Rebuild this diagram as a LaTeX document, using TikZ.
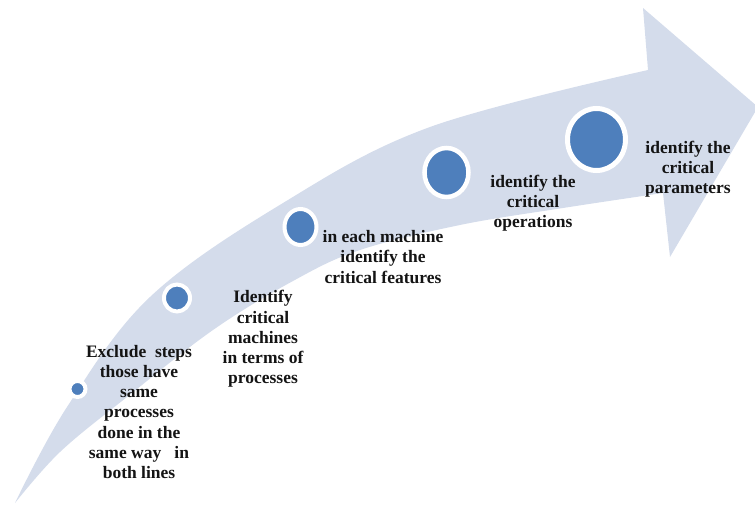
\documentclass[tikz,border=0pt]{standalone}
\usepackage{fontspec}
\setmainfont{Liberation Serif}
\usetikzlibrary{shapes.geometric}
\definecolor{bandblue}{RGB}{212,220,235}
\definecolor{dotblue}{RGB}{78,127,188}
\definecolor{inkblack}{RGB}{20,20,20}
\begin{document}
\begin{tikzpicture}[x=1pt,y=-1pt,
  band/.style={fill=bandblue,draw=none},
  dot/.style={ellipse,fill=dotblue,draw=white,line width=4pt,inner sep=0pt},
  steplabel/.style={align=center,inner sep=0pt,text=inkblack,
    font=\bfseries\fontsize{17.5}{20.3}\selectfont}]
\useasboundingbox (0,0) rectangle (755,506);
\clip (0,0) rectangle (755,506);

% curved band with arrow head
\fill[band]
  plot[smooth,tension=0.6] coordinates {(15,503) (67,407) (150,297) (283,203) (430,127) (648,70)}
  -- (643,8) -- (758,107) -- (670,257) -- (663,193)
  -- plot[smooth,tension=0.6] coordinates {(663,193) (563,208) (460,225) (360,250) (293,281) (213,330) (127,397) (60,452) (15,503)}
  -- cycle;

% step markers
\node[dot,minimum width=16pt,minimum height=16pt] (c1) at (77.5,389) {};
\node[dot,minimum width=26pt,minimum height=27pt] (c2) at (177,298) {};
\node[dot,minimum width=32pt,minimum height=36pt] (c3) at (300.5,227) {};
\node[dot,line width=4.5pt,minimum width=44pt,minimum height=49pt] (c4) at (446.5,172.5) {};
\node[dot,line width=5pt,minimum width=58pt,minimum height=62pt] (c5) at (596.5,139.5) {};

% step texts
\node[steplabel] (t1) at (139,412) {Exclude\ \ steps\\those have\\same\\processes\\done in the\\same way\ \ \ in\\both lines};
\node[steplabel] (t2) at (263,339) {Identify\\critical\\machines\\in terms of\\processes};
\node[steplabel] (t3) at (383,257) {in each machine\\identify the\\critical features};
\node[steplabel] (t4) at (533,203) {identify the\\critical\\operations};
\node[steplabel] (t5) at (688,169) {identify the\\critical\\parameters};
\end{tikzpicture}
\end{document}
